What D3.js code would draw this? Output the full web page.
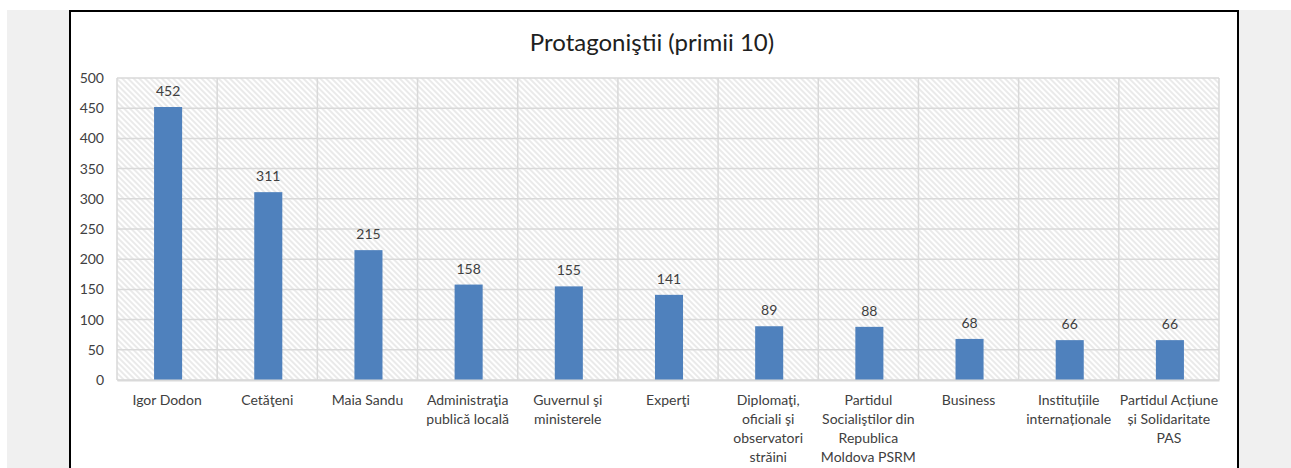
<!DOCTYPE html>
<html>
<head>
<meta charset="utf-8">
<script src="https://cdn.jsdelivr.net/npm/d3@7"></script>
<style>
  body { margin: 0; background: #fff; }
  svg { display: block; font-family: Lato, "Open Sans", sans-serif; }
</style>
</head>
<body>
<svg id="chart"></svg>
<script>
const categories = [
  'Igor Dodon',
  'Cetăţeni',
  'Maia Sandu',
  'Administraţia\npublică locală',
  'Guvernul şi\nministerele',
  'Experţi',
  'Diplomaţi,\noficiali şi\nobservatori\nstrăini',
  'Partidul\nSocialiştilor din\nRepublica\nMoldova PSRM',
  'Business',
  'Instituțiile\ninternaționale',
  'Partidul Acțiune\nși Solidaritate\nPAS'
];
const values = [452, 311, 215, 158, 155, 141, 89, 88, 68, 66, 66];
const yTicks = [0, 50, 100, 150, 200, 250, 300, 350, 400, 450, 500];
const title = 'Protagoniştii (primii 10)';

const width = 1291;
const height = 468;
const plot = { left: 117, right: 1219, top: 78, bottom: 380 };

const svg = d3.select('#chart')
  .attr('width', width)
  .attr('height', height);

// hatched fill of the plot area
const defs = svg.append('defs');
defs.append('pattern')
  .attr('id', 'hatch')
  .attr('patternUnits', 'userSpaceOnUse')
  .attr('width', 4)
  .attr('height', 4)
  .attr('patternTransform', 'rotate(45)')
  .append('line')
    .attr('x1', 0).attr('y1', 1)
    .attr('x2', 4).attr('y2', 1)
    .attr('stroke', '#d9d9d9')
    .attr('stroke-width', 1.1);

// grey page background and the white chart frame
svg.append('rect')
  .attr('x', 7).attr('y', 10)
  .attr('width', width - 7).attr('height', height - 10)
  .attr('fill', '#f0f0f0');
svg.append('rect')
  .attr('x', 70).attr('y', 11)
  .attr('width', 1168).attr('height', height)
  .attr('fill', '#fff')
  .attr('stroke', '#000')
  .attr('stroke-width', 2);

const x = d3.scaleBand()
  .domain(categories)
  .range([plot.left, plot.right]);

const y = d3.scaleLinear()
  .domain([0, 500])
  .range([plot.bottom, plot.top]);

svg.append('rect')
  .attr('x', plot.left).attr('y', plot.top)
  .attr('width', plot.right - plot.left)
  .attr('height', plot.bottom - plot.top)
  .attr('fill', 'url(#hatch)');

// gridlines
svg.append('g')
  .selectAll('line')
  .data(yTicks)
  .enter()
  .append('line')
    .attr('x1', plot.left).attr('x2', plot.right)
    .attr('y1', (d) => y(d)).attr('y2', (d) => y(d))
    .attr('stroke', '#d9d9d9')
    .attr('stroke-width', 1.5);

svg.append('g')
  .selectAll('line')
  .data(categories.concat(['end']))
  .enter()
  .append('line')
    .attr('x1', (d, i) => i < categories.length ? x(d) : plot.right)
    .attr('x2', (d, i) => i < categories.length ? x(d) : plot.right)
    .attr('y1', plot.top).attr('y2', plot.bottom)
    .attr('stroke', '#d9d9d9')
    .attr('stroke-width', 1.5);

// y axis labels
const yAxis = d3.axisLeft(y).tickValues(yTicks).tickSize(0).tickPadding(13);
svg.append('g')
  .attr('transform', `translate(${plot.left},0)`)
  .call(yAxis)
  .call((g) => g.select('.domain').remove())
  .selectAll('text')
    .attr('font-size', 14)
    .attr('font-family', 'Lato, "Open Sans", sans-serif')
    .attr('fill', '#404040');

// bars
const barW = x.bandwidth() * 0.28;
svg.append('g')
  .selectAll('rect')
  .data(values)
  .enter()
  .append('rect')
    .attr('x', (d, i) => x(categories[i]) + x.bandwidth() / 2 - barW / 2 + 1)
    .attr('y', (d) => y(d))
    .attr('width', barW)
    .attr('height', (d) => y(0) - y(d))
    .attr('fill', '#4f81bd');

// value labels
svg.append('g')
  .selectAll('text')
  .data(values)
  .enter()
  .append('text')
    .attr('x', (d, i) => x(categories[i]) + x.bandwidth() / 2 + 1)
    .attr('y', (d) => y(d) - 11)
    .attr('text-anchor', 'middle')
    .attr('font-size', 14)
    .attr('fill', '#404040')
    .text((d) => d);

// category labels
const xAxis = d3.axisBottom(x).tickSize(0).tickFormat('');
svg.append('g')
  .attr('transform', `translate(0,${plot.bottom})`)
  .call(xAxis)
  .call((g) => g.select('.domain')
    .attr('stroke', '#d9d9d9')
    .attr('stroke-width', 2));

const cat = svg.append('g')
  .selectAll('text')
  .data(categories)
  .enter()
  .append('text')
    .attr('x', (d) => x(d) + x.bandwidth() / 2)
    .attr('y', 405)
    .attr('text-anchor', 'middle')
    .attr('font-size', 14)
    .attr('fill', '#404040');

cat.selectAll('tspan')
  .data((d) => d.split('\n'))
  .enter()
  .append('tspan')
    .attr('x', function () { return d3.select(this.parentNode).attr('x'); })
    .attr('dy', (d, i) => i === 0 ? 0 : 19)
    .text((d) => d);

// title
svg.append('text')
  .attr('x', 652)
  .attr('y', 51)
  .attr('text-anchor', 'middle')
  .attr('font-size', 24)
  .attr('fill', '#202020')
  .text(title);
</script>
</body>
</html>
